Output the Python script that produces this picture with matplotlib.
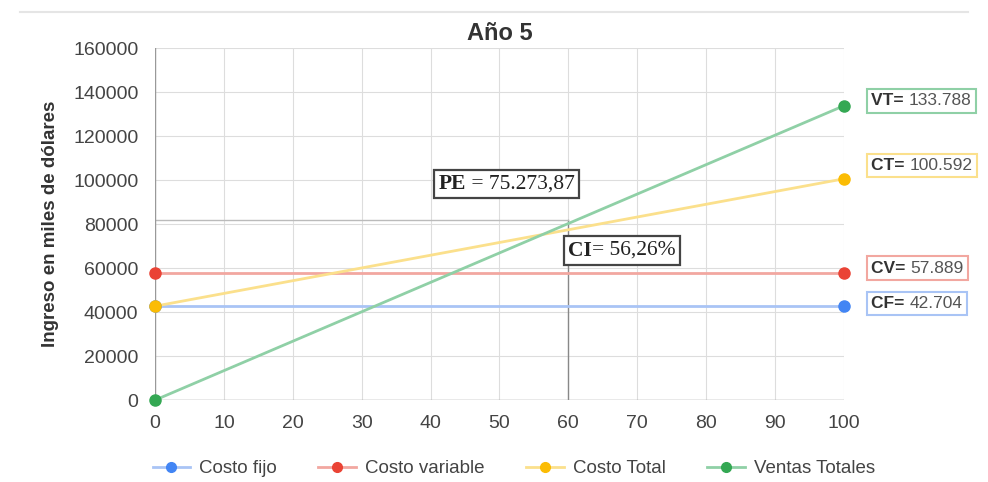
import matplotlib.pyplot as plt
from matplotlib.lines import Line2D
from matplotlib.offsetbox import TextArea, HPacker, AnnotationBbox

plt.rcParams['font.family'] = ['Liberation Sans', 'DejaVu Sans']

# datos del año 5
x = [0, 100]
costo_fijo = [42704, 42704]
costo_variable = [57889, 57889]
costo_total = [42704, 100592]
ventas_totales = [0, 133788]

pe_x = 60
pe_y = 82000

series = [
    ("Costo fijo", costo_fijo, "#4285f4", "#a9c4f5"),
    ("Costo variable", costo_variable, "#ea4335", "#f2a7a0"),
    ("Costo Total", costo_total, "#fbbc04", "#fbe08c"),
    ("Ventas Totales", ventas_totales, "#34a853", "#8fd0a6"),
]
box_labels = [
    ("CF= ", "42.704", 44000, "#a9c4f5"),
    ("CV= ", "57.889", 60000, "#f2a7a0"),
    ("CT= ", "100.592", 106800, "#fbe08c"),
    ("VT= ", "133.788", 136000, "#8fd0a6"),
]

fig = plt.figure(figsize=(9.88, 4.82), dpi=100)
ax = fig.add_axes([0.157, 0.17, 0.697, 0.73])

for name, vals, c, lc in series:
    ax.plot(x, vals, color=lc, lw=2, zorder=3)
    ax.plot(x, vals, "o", color=c, ms=8, zorder=4, clip_on=False)

# punto de equilibrio
ax.plot([pe_x, pe_x], [0, pe_y], color="#888888", lw=1, zorder=2)
ax.plot([0, pe_x], [pe_y, pe_y], color="#bbbbbb", lw=1, zorder=2)

ax.set_xlim(0, 100)
ax.set_ylim(0, 160000)
ax.set_xticks(range(0, 101, 10))
ax.set_yticks(range(0, 160001, 20000))
ax.grid(True, color="#dddddd", lw=0.8)
ax.set_axisbelow(True)
for s in ax.spines.values():
    s.set_visible(False)
ax.axhline(0, color="#999999", lw=1, zorder=2)
ax.axvline(0, color="#999999", lw=1, zorder=2)
ax.tick_params(length=0, labelsize=14, colors="#444444")
ax.tick_params(axis="x", pad=11)
ax.tick_params(axis="y", pad=12)

ax.set_title("Año 5", fontsize=17, fontweight="bold", color="#333333", pad=6)
ax.set_ylabel("Ingreso en miles de dólares", fontsize=13.5, fontweight="bold",
              color="#333333", labelpad=10)


def box(parts, xy, coords, ec, lw, pad, align=(0.5, 0.5)):
    kids = [TextArea(t, textprops=p) for t, p in parts]
    pack = HPacker(children=kids, align="center", pad=0, sep=0)
    ab = AnnotationBbox(pack, xy, xycoords=coords, box_alignment=align,
                        frameon=True, pad=pad, annotation_clip=False,
                        bboxprops=dict(boxstyle="square", fc="white", ec=ec, lw=lw))
    ab.set_zorder(5)
    ax.add_artist(ab)


serif_b = dict(family="Liberation Serif", fontsize=15.5, fontweight="bold", color="#222222")
serif = dict(family="Liberation Serif", fontsize=15.5, color="#222222")
box([("PE", serif_b), (" = 75.273,87", serif)], (51, 98200), "data", "#444444", 1.6, 0.45)
box([("CI", serif_b), ("= 56,26%", serif)], (67.8, 68000), "data", "#444444", 1.6, 0.35)

for lab, val, y, ec in box_labels:
    box([(lab, dict(fontsize=12.5, fontweight="bold", color="#333333")),
         (val, dict(fontsize=12.5, color="#555555"))],
        (1.04, y), ("axes fraction", "data"), ec, 1.5, 0.35, align=(0, 0.5))

handles = [Line2D([0], [0], color=lc, lw=2, marker="o", ms=7, mfc=c, mec=c)
           for name, vals, c, lc in series]
fig.legend(handles, [s[0] for s in series], loc="lower center", ncol=4,
           frameon=False, fontsize=13.5, bbox_to_anchor=(0.52, -0.025),
           handlelength=2.0, handletextpad=0.5, columnspacing=2.2,
           labelcolor="#444444")

fig.add_artist(Line2D([0.02, 0.98], [0.975, 0.975], color="#e5e5e5", lw=1.5))

plt.savefig("out.png")
